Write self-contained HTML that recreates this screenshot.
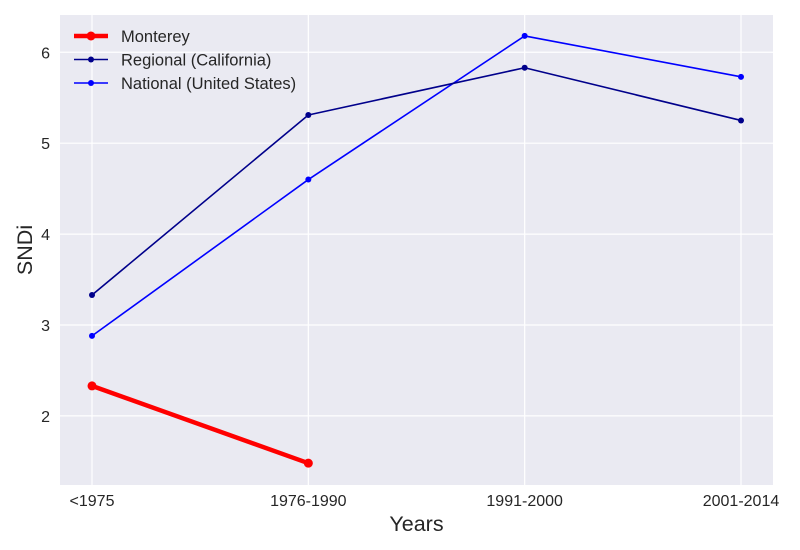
<!DOCTYPE html>
<html><head><meta charset="utf-8"><style>
body{margin:0;background:#fff;}
svg{display:block;font-family:"Liberation Sans",sans-serif;}
</style></head><body>
<svg id="chart" width="800" height="550"></svg>
<script>
const categories = ["<1975","1976-1990","1991-2000","2001-2014"];
const monterey = [2.33, 1.48];
const regional = [3.33, 5.31, 5.83, 5.25];
const national = [2.88, 4.60, 6.18, 5.73];
const yTicks = [2,3,4,5,6];
const seriesNames = ["Monterey","Regional (California)","National (United States)"];

const NS="http://www.w3.org/2000/svg";
const svg=document.getElementById('chart');
const L=60,R=773,T=15,B=485;
const yMin=1.24,yMax=6.41;
function x(i){return 92+i*(741-92)/(categories.length-1);}
function y(v){return B-(v-yMin)/(yMax-yMin)*(B-T);}
function mk(tag,attrs,parent){const e=document.createElementNS(NS,tag);for(const k in attrs)e.setAttribute(k,attrs[k]);(parent||svg).appendChild(e);return e;}

const bg=mk('rect',{x:L,y:T,width:R-L,height:B-T,fill:'#eaeaf2'});



yTicks.forEach(v=>{
  const g=mk('line',{x1:L,x2:R,y1:y(v),y2:y(v),stroke:'#fff','stroke-width':1.2});
  
  
  const t=mk('text',{x:L-10,y:y(v)+6,'text-anchor':'end','font-size':16,fill:'#262626'});
  t.textContent=v;
  
  
});
categories.forEach((c,i)=>{
  const g=mk('line',{x1:x(i),x2:x(i),y1:T,y2:B,stroke:'#fff','stroke-width':1.2});
  
  
  const t=mk('text',{x:x(i),y:B+21,'text-anchor':'middle','font-size':16,fill:'#262626'});
  t.textContent=c;
  
  
});

function series(vals,color,w,r,name){
  const p=mk('polyline',{points:vals.map((v,i)=>x(i)+','+y(v)).join(' '),fill:'none',stroke:color,'stroke-width':w,'stroke-linejoin':'round'});
  
  
  vals.forEach((v,i)=>{
    const c=mk('circle',{cx:x(i),cy:y(v),r:r,fill:color});
    
    
  });
}
series(national,'#0000ff',1.6,3,'national');
series(regional,'#00008b',1.6,3,'regional');
series(monterey,'#ff0000',4.5,4.5,'monterey');

const colors=['#ff0000','#00008b','#0000ff'];
const widths=[4.5,1.6,1.6];
const radii=[4.5,3,3];
seriesNames.forEach((n,i)=>{
  const yy=36+i*23.5;
  const l=mk('line',{x1:74,x2:108,y1:yy,y2:yy,stroke:colors[i],'stroke-width':widths[i]});
  
  
  const c=mk('circle',{cx:91,cy:yy,r:radii[i],fill:colors[i]});
  
  
  const t=mk('text',{x:121,y:yy+6,'font-size':16.5,fill:'#262626'});
  t.textContent=n;
  
  
});

const xt=mk('text',{x:(L+R)/2,y:531,'text-anchor':'middle','font-size':21.5,fill:'#262626'});
xt.textContent='Years';


const yt=mk('text',{x:0,y:0,'text-anchor':'middle','font-size':21.5,fill:'#262626',transform:'translate(32,250) rotate(-90)'});
yt.textContent='SNDi';


</script>
</body></html>
